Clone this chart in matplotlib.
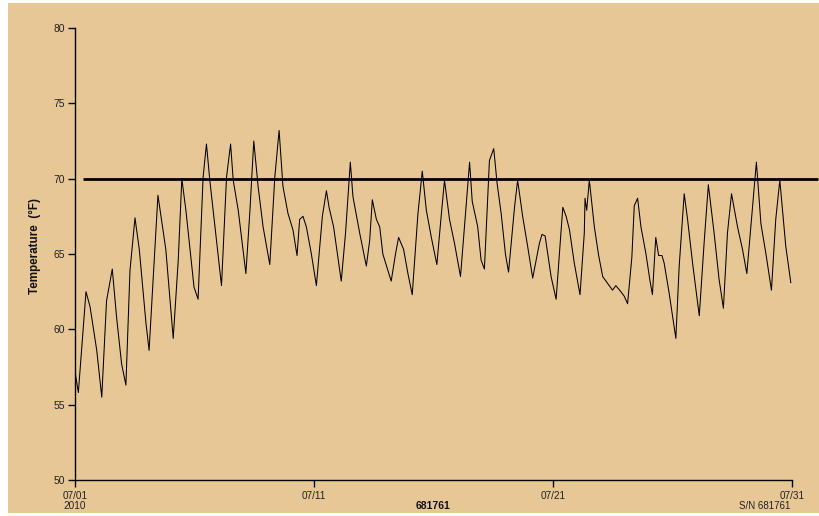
import matplotlib
matplotlib.use("Agg")
import matplotlib.pyplot as plt
from matplotlib.patches import Rectangle

# ---- data (days since 07/01 00:00, temperature in deg F) ----
days = [0.00, 0.14, 0.46, 0.63, 0.91, 1.12, 1.32, 1.56, 1.74, 1.95, 2.13, 2.30, 2.51,
        2.69, 2.97, 3.10, 3.34, 3.47, 3.80, 4.11, 4.32, 4.47, 4.64, 4.98, 5.15,
        5.36, 5.50, 5.64, 5.78, 6.13, 6.34, 6.51, 6.62, 6.83, 7.15, 7.32, 7.48,
        7.66, 7.87, 8.15, 8.36, 8.54, 8.70, 8.91, 9.12, 9.29, 9.40, 9.54, 9.68,
        9.89, 10.10, 10.35, 10.52, 10.63, 10.82, 11.14, 11.32, 11.52, 11.63, 11.91,
        12.19, 12.33, 12.44, 12.61, 12.75, 12.88, 13.23, 13.41, 13.54, 13.75, 13.93,
        14.11, 14.35, 14.53, 14.70, 14.91, 15.14, 15.32, 15.46, 15.67, 15.88, 16.13,
        16.34, 16.51, 16.62, 16.85, 16.99, 17.13, 17.34, 17.52, 17.66, 17.83, 18.01,
        18.14, 18.39, 18.52, 18.73, 18.94, 19.15, 19.43, 19.54, 19.67, 19.92, 20.13,
        20.30, 20.41, 20.55, 20.69, 20.89, 21.13, 21.31, 21.34, 21.41, 21.52, 21.73,
        21.91, 22.08, 22.49, 22.63, 22.84, 22.98, 23.12, 23.30, 23.40, 23.54, 23.68,
        23.89, 24.05, 24.16, 24.30, 24.42, 24.56, 24.65, 24.86, 25.14, 25.28, 25.49,
        25.63, 25.84, 26.12, 26.33, 26.50, 26.74, 26.95, 27.13, 27.30, 27.47, 27.72,
        27.93, 28.11, 28.35, 28.51, 28.70, 28.91, 29.14, 29.32, 29.49, 29.74, 29.95]
temps = [57.2, 55.8, 62.5, 61.5, 58.6, 55.5, 61.9, 64.0, 60.8, 57.7, 56.3, 63.9, 67.4,
         65.3, 60.4, 58.6, 65.3, 68.9, 65.3, 59.4, 64.6, 70.0, 67.9, 62.8, 62.0,
         70.1, 72.3, 69.9, 67.9, 62.9, 70.1, 72.3, 69.9, 67.9, 63.7, 67.9, 72.5,
         69.5, 66.8, 64.3, 70.1, 73.2, 69.5, 67.7, 66.6, 64.9, 67.3, 67.5, 66.8,
         65.0, 62.9, 67.5, 69.2, 68.1, 66.8, 63.2, 66.4, 71.1, 68.8, 66.4,
         64.2, 65.9, 68.6, 67.3, 66.8, 65.0, 63.2, 65.0, 66.1, 65.3, 63.7,
         62.3, 67.7, 70.5, 67.9, 66.1, 64.3, 67.5, 69.9, 67.3, 65.7, 63.5,
         67.7, 71.1, 68.5, 66.8, 64.6, 64.0, 71.2, 72.0, 69.7, 67.7, 65.0,
         63.8, 68.1, 69.9, 67.5, 65.5, 63.4, 65.7, 66.3, 66.2, 63.5, 62.0,
         65.7, 68.1, 67.5, 66.6, 64.4, 62.3, 66.4, 68.7, 67.9, 69.9, 66.8,
         64.9, 63.5, 62.6, 62.9, 62.5, 62.2, 61.7, 64.8, 68.2, 68.7, 66.8,
         65.0, 63.3, 62.3, 66.1, 64.9, 64.9, 64.4, 62.4, 59.4, 64.2, 69.0,
         67.3, 64.4, 60.9, 65.9, 69.6, 66.4, 63.3, 61.4, 66.4, 69.0, 66.8,
         65.3, 63.7, 68.1, 71.1, 67.0, 65.0, 62.6, 67.3, 69.9, 65.5, 63.1]

threshold = 70
threshold_span = [0.33, 31.1]
x_ticks = [0, 10, 20, 30]
x_tick_labels = ["07/01\n2010", "07/11", "07/21", "07/31"]
y_ticks = [50, 55, 60, 65, 70, 75, 80]
y_label = "Temperature  (°F)"
center_label = "681761"
serial_label = "S/N 681761"

BG = "#E8C796"
FONT = ["Liberation Sans Narrow", "Liberation Sans", "DejaVu Sans"]
FONT_W = ["Liberation Sans", "DejaVu Sans"]

W, H = 819, 516
fig = plt.figure(figsize=(W / 100, H / 100), dpi=100, facecolor="white")
# tan panel (small white margin at left/top/bottom)
fig.patches.append(Rectangle((8 / W, 3 / H), 1 - 8 / W, 1 - 6 / H,
                             transform=fig.transFigure, facecolor=BG,
                             edgecolor="none", zorder=-10))

ax_l, ax_r, ax_b, ax_t = 75, 792, 480, 28
ax = fig.add_axes([ax_l / W, 1 - ax_b / H, (ax_r - ax_l) / W, (ax_b - ax_t) / H])
ax.set_zorder(5)
ax.set_facecolor("none")
ax.patch.set_alpha(0)

ax.plot(days, temps, color="black", lw=0.75, zorder=3)
ax.plot(threshold_span, [threshold, threshold], color="black", lw=2.0,
        clip_on=False, solid_capstyle="butt", zorder=4)

ax.set_xlim(0, 30)
ax.set_ylim(50, 80)
for s in ("top", "right"):
    ax.spines[s].set_visible(False)
for s in ("left", "bottom"):
    ax.spines[s].set_linewidth(1.0)
    ax.spines[s].set_color("black")

ax.set_xticks(x_ticks)
ax.set_xticklabels(x_tick_labels, family=FONT, fontsize=7.2, linespacing=1.0)
ax.set_yticks(y_ticks)
ax.set_yticklabels([str(v) for v in y_ticks], family=FONT, fontsize=7.4)
ax.tick_params(axis="both", direction="out", length=5, width=1, color="black",
               labelcolor="#222222")
ax.tick_params(axis="x", pad=3)
ax.tick_params(axis="y", pad=2)

fig.text(35 / W, 1 - 246 / H, y_label, rotation=90, ha="center", va="center",
         family=FONT_W, fontsize=8.4, fontweight="bold", color="#111111")
fig.text(433 / W, 1 - 506 / H, center_label, ha="center", va="center",
         family=FONT, fontsize=7.5, fontweight="bold", color="#111111")
fig.text(790 / W, 1 - 506 / H, serial_label, ha="right", va="center",
         family=FONT, fontsize=7.0, color="#222222")

fig.savefig("out.png", dpi=100, facecolor="white")
